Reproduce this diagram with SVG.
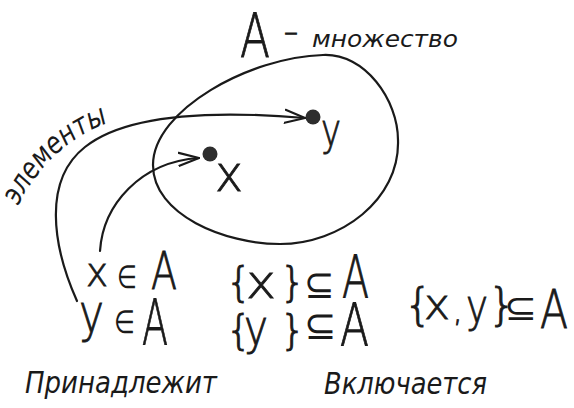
<svg xmlns="http://www.w3.org/2000/svg" width="574" height="408" viewBox="0 0 574 408">
<style>
.ln{fill:none;stroke:#1a1a1a;stroke-width:2.2;stroke-linecap:round;stroke-linejoin:round}
.hw{fill:#1a1a1a;font-family:"DejaVu Sans","Liberation Sans",sans-serif;font-style:italic;font-weight:400}
.mt{fill:#1a1a1a;stroke:#1a1a1a;stroke-width:0.9;font-family:"DejaVu Sans","Liberation Sans",sans-serif;font-weight:200}
.ns{stroke:none}
</style>
<defs>
<marker id="ah" viewBox="0 0 22 16" refX="21" refY="8" markerWidth="22" markerHeight="16" markerUnits="userSpaceOnUse" orient="auto">
<path d="M1 1.5 L21 8 L1 14.5" fill="none" stroke="#1a1a1a" stroke-width="2.2" stroke-linecap="round" stroke-linejoin="round"/>
</marker>
<path id="elp" d="M 18 206 Q 51 141 114 121"/>
</defs>
<g id="title">
<text class="mt" x="240" y="57" font-size="60"><tspan textLength="30" lengthAdjust="spacingAndGlyphs">A</tspan></text>
<text class="mt" x="284" y="43" font-size="34"><tspan textLength="14" lengthAdjust="spacingAndGlyphs">–</tspan></text>
<text class="hw" x="312" y="47" font-size="23" textLength="146" lengthAdjust="spacingAndGlyphs">множество</text>
</g>
<g id="setA">
<path class="ln" d="M 323 55 C 365 53 398 100 398 140 C 400 200 340 244 280 244 C 225 244 153 215 153 165 C 153 110 250 57 323 55 Z"/>
</g>
<g id="nodeY">
<circle cx="313" cy="117" r="7.5" fill="#2d2d2d"/>
<text class="mt" x="321" y="145" font-size="44"><tspan textLength="20" lengthAdjust="spacingAndGlyphs">y</tspan></text>
</g>
<g id="nodeX">
<circle cx="210" cy="154" r="7.5" fill="#2d2d2d"/>
<text class="mt" x="215" y="191" font-size="49"><tspan textLength="28" lengthAdjust="spacingAndGlyphs">x</tspan></text>
</g>
<g id="connectors">
<path class="ln" d="M 77 301 C 52 245 43 180 85 147 C 125 115 210 110 305 118" marker-end="url(#ah)"/>
<path class="ln" d="M 100 251 C 103 205 140 162 199 158" marker-end="url(#ah)"/>
</g>
<g id="label-elements">
<text class="hw" font-size="30"><textPath href="#elp" textLength="126" lengthAdjust="spacingAndGlyphs">элементы</textPath></text>
</g>
<g id="belongs">
<text class="mt"><tspan x="86" y="286" font-size="40" textLength="22" lengthAdjust="spacingAndGlyphs">x</tspan><tspan class="ns" x="117" y="288" font-size="32" textLength="20" lengthAdjust="spacingAndGlyphs">∈</tspan><tspan x="151" y="289" font-size="52" textLength="26" lengthAdjust="spacingAndGlyphs">A</tspan></text>
<text class="mt"><tspan x="79" y="332" font-size="54" textLength="25" lengthAdjust="spacingAndGlyphs">y</tspan><tspan class="ns" x="114" y="333" font-size="32" textLength="21" lengthAdjust="spacingAndGlyphs">∈</tspan><tspan x="142" y="344" font-size="63" textLength="26" lengthAdjust="spacingAndGlyphs">A</tspan></text>
<text class="hw" x="25" y="393" font-size="31" textLength="192" lengthAdjust="spacingAndGlyphs">Принадлежит</text>
</g>
<g id="includes">
<text class="mt"><tspan x="226" y="296" font-size="40">{</tspan><tspan x="246" y="298" font-size="46" textLength="30" lengthAdjust="spacingAndGlyphs">x</tspan><tspan x="280" y="296" font-size="40">}</tspan><tspan class="ns" x="304" y="298" font-size="40" textLength="31" lengthAdjust="spacingAndGlyphs">⊆</tspan><tspan x="342" y="298" font-size="58" textLength="27" lengthAdjust="spacingAndGlyphs">A</tspan></text>
<text class="mt"><tspan x="226" y="344" font-size="40">{</tspan><tspan x="244" y="344" font-size="48" textLength="24" lengthAdjust="spacingAndGlyphs">y</tspan><tspan x="280" y="344" font-size="40">}</tspan><tspan class="ns" x="304" y="339" font-size="40" textLength="33" lengthAdjust="spacingAndGlyphs">⊆</tspan><tspan x="340" y="346" font-size="58" textLength="29" lengthAdjust="spacingAndGlyphs">A</tspan></text>
<text class="mt"><tspan x="404" y="320" font-size="44">{</tspan><tspan x="424" y="319" font-size="42" textLength="26" lengthAdjust="spacingAndGlyphs">x</tspan><tspan x="453" y="321" font-size="30">,</tspan><tspan x="466" y="322" font-size="46" textLength="22" lengthAdjust="spacingAndGlyphs">y</tspan><tspan x="488" y="320" font-size="44">}</tspan><tspan class="ns" x="504" y="320" font-size="36" textLength="33" lengthAdjust="spacingAndGlyphs">⊆</tspan><tspan x="540" y="328" font-size="54" textLength="28" lengthAdjust="spacingAndGlyphs">A</tspan></text>
<text class="hw" x="324" y="394" font-size="31" textLength="163" lengthAdjust="spacingAndGlyphs">Включается</text>
</g>
</svg>
